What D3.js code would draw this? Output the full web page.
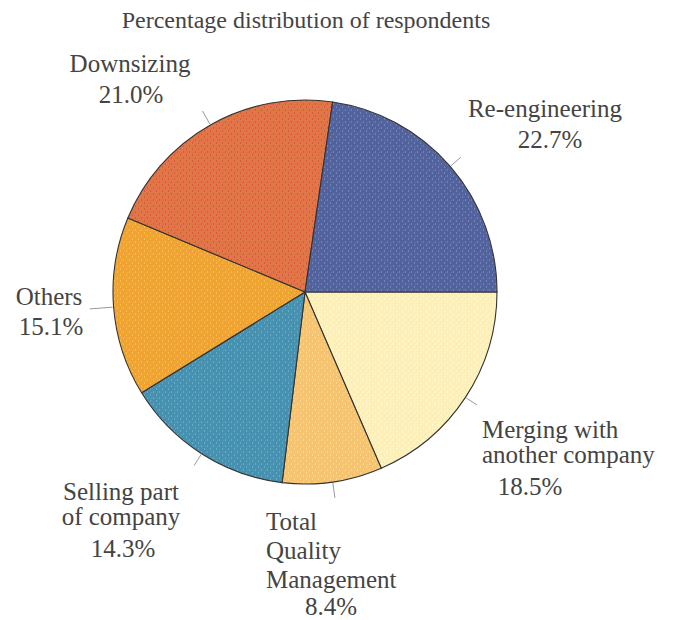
<!DOCTYPE html>
<html>
<head>
<meta charset="utf-8">
<script src="https://cdn.jsdelivr.net/npm/d3@7/dist/d3.min.js"></script>
<style>
  body { margin: 0; background: #fff; }
</style>
</head>
<body>
<div id="chart"></div>
<script>
// data, clockwise from 3 o'clock
const categories = ["Merging", "TQM", "Selling", "Others", "Downsizing", "Re-engineering"];
const shares = [18.5, 8.4, 14.3, 15.1, 21.0, 22.7];
const labelLines = [
  ["Merging with", "another company"],
  ["Total", "Quality", "Management"],
  ["Selling part", "of company"],
  ["Others"],
  ["Downsizing"],
  ["Re-engineering"]
];

const fills = ["#fcefb8", "#f6c470", "#4690b0", "#efa336", "#df7846", "#52629c"];
const dots = ["#fff8d8", "#fbd890", "#6aa8c4", "#f8c030", "#e4504a", "#7482b8"];

// label placement: anchor, x, first baseline, line gap, percent x / gap
const labelPos = [
  { anchor: "start", x: 482, y: 438, gap: 25, pct: 530, pgap: 32 },
  { anchor: "start", x: 266, y: 530, gap: 29, pct: 331, pgap: 27 },
  { anchor: "middle", x: 121, y: 500, gap: 25, pct: 123, pgap: 32 },
  { anchor: "middle", x: 49, y: 305, gap: 29, pct: 51, pgap: 30 },
  { anchor: "middle", x: 130, y: 72, gap: 29, pct: 131, pgap: 31 },
  { anchor: "middle", x: 545, y: 117, gap: 29, pct: 550, pgap: 31 }
];
const leader = [14, 16, 14, 24, 16, 14];

const W = 675, H = 620;
const cx = 305, cy = 292, r = 192;
const font = "'Liberation Serif', 'Times New Roman', serif";

let svg = d3.select("#chart").append("svg")
    .attr("width", W)
    .attr("height", H);

// speckled fills like the printed original
let defs = svg.append("defs");
fills.forEach((c, i) => {
    let p = defs.append("pattern")
        .attr("id", "tex" + i)
        .attr("patternUnits", "userSpaceOnUse")
        .attr("width", 6)
        .attr("height", 6);
    p.append("rect").attr("width", 6).attr("height", 6).attr("fill", c);
    p.append("rect").attr("x", 1).attr("y", 0).attr("width", 1).attr("height", 2).attr("fill", dots[i]);
    p.append("rect").attr("x", 4).attr("y", 3).attr("width", 1).attr("height", 2).attr("fill", dots[i]);
    p.append("rect").attr("x", 2).attr("y", 4).attr("width", 1).attr("height", 1).attr("fill", dots[i]).attr("opacity", 0.6);
});

svg.append("text")
    .attr("x", 306)
    .attr("y", 28)
    .attr("text-anchor", "middle")
    .attr("font-family", font)
    .attr("fill", "#444")
    .style("font-size", "24px")
    .text("Percentage distribution of respondents");

let pie = d3.pie()
    .sort(null)
    .startAngle(Math.PI / 2)
    .endAngle(Math.PI / 2 + 2 * Math.PI);

let arcs = pie(shares);
let arc = d3.arc().innerRadius(0).outerRadius(r);

let g = svg.append("g").attr("transform", "translate(" + cx + "," + cy + ")");

g.selectAll(".slice")
    .data(arcs)
    .enter().append("path")
    .attr("class", "slice")
    .attr("d", arc)
    .attr("fill", (d, i) => "url(#tex" + i + ")")
    .attr("stroke", "#333")
    .attr("stroke-width", 1.1);

// leader ticks at mid-angle
g.selectAll(".leader")
    .data(arcs)
    .enter().append("line")
    .attr("class", "leader")
    .attr("x1", (d) => Math.sin((d.startAngle + d.endAngle) / 2) * (r + 1))
    .attr("y1", (d) => -Math.cos((d.startAngle + d.endAngle) / 2) * (r + 1))
    .attr("x2", (d, i) => Math.sin((d.startAngle + d.endAngle) / 2) * (r + leader[i]))
    .attr("y2", (d, i) => -Math.cos((d.startAngle + d.endAngle) / 2) * (r + leader[i]))
    .attr("stroke", "#999")
    .attr("stroke-width", 1);

// labels
arcs.forEach((d, i) => {
    let lp = labelPos[i];
    let t = svg.append("text")
        .attr("text-anchor", lp.anchor)
        .attr("font-family", font)
        .attr("fill", "#444")
        .style("font-size", "25px");
    labelLines[i].forEach((s, k) => {
        t.append("tspan")
            .attr("x", lp.x)
            .attr("y", lp.y + k * lp.gap)
            .text(s);
    });
    svg.append("text")
        .attr("x", lp.pct)
        .attr("y", lp.y + (labelLines[i].length - 1) * lp.gap + lp.pgap)
        .attr("text-anchor", "middle")
        .attr("font-family", font)
        .attr("fill", "#444")
        .style("font-size", "25px")
        .text(shares[i].toFixed(1) + "%");
});
</script>
</body>
</html>
